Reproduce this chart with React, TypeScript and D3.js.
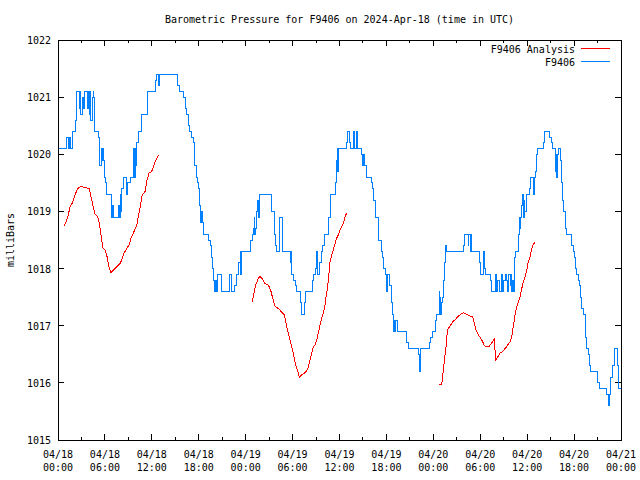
import React from "react";
import * as d3 from "d3";

const title = "Barometric Pressure for F9406 on 2024-Apr-18 (time in UTC)";
const yLabel = "milliBars";
const yTicks = [1015, 1016, 1017, 1018, 1019, 1020, 1021, 1022];
const xTickHours = [0, 6, 12, 18, 24, 30, 36, 42, 48, 54, 60, 66, 72];
const xTickDates = ["04/18", "04/18", "04/18", "04/18", "04/19", "04/19", "04/19", "04/19", "04/20", "04/20", "04/20", "04/20", "04/21"];
const xTickTimes = ["00:00", "06:00", "12:00", "18:00", "00:00", "06:00", "12:00", "18:00", "00:00", "06:00", "12:00", "18:00", "00:00"];
const seriesNames = ["F9406 Analysis", "F9406"];

// Observed pressure (hours since 04/18 00:00 UTC, mbar)
const obsHours = [
  0.00, 1.11, 1.28, 1.41, 1.62, 1.83, 2.26, 2.39, 2.69, 2.81, 2.94, 3.07, 3.16, 3.24, 3.45, 3.75, 3.88, 4.00, 4.09, 4.22,
  4.39, 4.51, 4.60, 4.73, 5.15, 5.28, 5.37, 5.50, 5.59, 5.67, 5.79, 5.92, 6.10, 6.23, 6.87, 7.00, 7.07, 7.71, 7.84, 7.97,
  8.10, 8.18, 8.44, 8.79, 8.95, 9.21, 9.63, 9.72, 9.85, 9.94, 10.01, 10.27, 10.70, 11.47, 12.49, 12.66, 12.79, 12.92, 15.26, 15.60,
  16.11, 16.28, 16.46, 16.66, 16.75, 16.88, 17.10, 17.30, 17.43, 17.52, 17.74, 17.87, 17.94, 18.07, 18.25, 18.33, 18.42, 18.58, 19.22, 19.44,
  19.57, 19.78, 19.86, 19.99, 20.12, 20.21, 20.42, 20.85, 21.87, 22.21, 22.51, 22.85, 23.02, 23.31, 23.40, 23.53, 24.64, 24.81, 24.98, 25.10,
  25.19, 25.28, 25.41, 25.54, 25.62, 25.71, 25.83, 27.33, 27.66, 27.75, 27.84, 27.97, 28.30, 28.39, 28.69, 29.67, 29.76, 29.89, 30.09, 30.40,
  30.53, 30.95, 31.17, 31.50, 31.68, 32.57, 32.65, 32.87, 33.00, 33.16, 33.42, 33.72, 33.85, 34.02, 34.57, 34.79, 35.46, 35.59, 35.72, 35.77,
  35.85, 36.92, 37.00, 37.25, 37.43, 37.77, 37.85, 37.98, 38.20, 38.33, 38.84, 38.92, 39.01, 39.10, 39.17, 39.26, 39.48, 40.03, 40.25, 40.32,
  40.54, 40.63, 40.96, 41.05, 41.31, 41.47, 41.69, 41.82, 41.95, 41.99, 42.08, 42.11, 42.37, 42.59, 42.75, 42.88, 42.97, 43.10, 43.19, 43.44,
  44.59, 44.80, 46.08, 46.17, 46.30, 46.38, 47.57, 47.70, 47.92, 48.30, 48.43, 48.73, 48.85, 48.98, 49.07, 49.15, 49.24, 49.28, 49.40, 49.58,
  49.71, 51.83, 51.96, 52.47, 52.56, 52.69, 52.78, 52.91, 53.88, 54.06, 54.39, 54.52, 54.61, 55.25, 55.47, 55.89, 56.10, 56.23, 56.40, 56.74,
  56.87, 56.95, 57.17, 57.38, 57.51, 57.59, 57.81, 57.93, 58.02, 58.15, 58.23, 58.32, 58.45, 58.87, 58.96, 59.08, 59.17, 59.30, 59.43, 59.51,
  59.64, 59.72, 59.94, 60.27, 60.45, 60.79, 60.91, 61.09, 61.22, 61.30, 62.07, 62.28, 62.92, 63.14, 63.27, 63.56, 63.69, 63.78, 63.91, 63.98,
  64.29, 64.42, 64.55, 64.71, 64.84, 64.93, 65.06, 65.61, 65.70, 65.90, 66.03, 66.21, 66.34, 66.54, 66.67, 66.76, 66.98, 67.18, 67.40, 67.49,
  67.61, 67.82, 67.95, 68.08, 69.02, 69.23, 70.17, 70.34, 70.47, 70.60, 70.72, 70.85, 71.14, 71.23, 71.58, 71.66, 72.00,
];
const obsValues = [
  1020.1, 1020.3, 1020.1, 1020.3, 1020.1, 1020.4, 1020.6, 1021.1, 1020.8, 1021.1, 1020.7, 1020.9, 1021.0, 1020.8, 1021.1, 1020.8, 1021.1, 1020.7, 1021.1, 1020.6,
  1021.0, 1021.1, 1021.0, 1020.4, 1020.3, 1020.1, 1019.8, 1020.1, 1019.9, 1020.1, 1019.9, 1019.6, 1019.5, 1019.3, 1018.9, 1019.1, 1018.9, 1019.1, 1018.9, 1019.3,
  1019.0, 1019.4, 1019.6, 1019.3, 1019.5, 1019.6, 1020.1, 1019.6, 1020.1, 1019.8, 1020.2, 1020.4, 1020.7, 1021.1, 1021.3, 1021.4, 1021.2, 1021.4, 1021.2, 1021.1,
  1021.0, 1020.8, 1020.7, 1020.6, 1020.5, 1020.4, 1020.3, 1020.2, 1020.0, 1019.8, 1019.6, 1019.5, 1019.4, 1019.1, 1018.8, 1019.0, 1018.8, 1018.6, 1018.5, 1018.4,
  1018.2, 1018.0, 1017.8, 1017.6, 1017.8, 1017.6, 1017.9, 1017.6, 1017.9, 1017.6, 1017.7, 1017.9, 1018.1, 1018.3, 1017.9, 1018.3, 1018.5, 1018.6, 1018.7, 1018.9,
  1018.6, 1018.7, 1019.0, 1019.2, 1018.9, 1019.2, 1019.3, 1019.0, 1018.9, 1018.6, 1018.4, 1018.3, 1018.7, 1018.9, 1018.3, 1018.1, 1018.3, 1017.9, 1017.8, 1017.7,
  1017.6, 1017.4, 1017.2, 1017.4, 1017.6, 1017.8, 1017.9, 1018.0, 1018.3, 1017.9, 1018.1, 1018.3, 1018.4, 1018.6, 1018.9, 1019.3, 1019.5, 1019.9, 1020.1, 1019.7,
  1020.1, 1020.2, 1020.4, 1020.2, 1020.1, 1020.2, 1020.4, 1020.1, 1020.4, 1020.1, 1020.0, 1019.8, 1020.0, 1019.8, 1020.0, 1019.8, 1019.6, 1019.5, 1019.4, 1019.2,
  1019.0, 1018.9, 1018.7, 1018.5, 1018.3, 1018.2, 1018.0, 1017.9, 1017.8, 1017.6, 1017.8, 1017.9, 1017.7, 1017.4, 1017.2, 1016.9, 1017.1, 1016.9, 1017.1, 1016.9,
  1016.7, 1016.6, 1016.5, 1016.2, 1016.5, 1016.6, 1016.7, 1016.8, 1016.9, 1017.1, 1017.2, 1017.6, 1017.5, 1017.2, 1017.4, 1017.5, 1017.7, 1017.8, 1018.1, 1018.4,
  1018.3, 1018.4, 1018.6, 1018.4, 1018.6, 1018.3, 1018.6, 1018.3, 1018.1, 1017.9, 1018.3, 1018.0, 1017.9, 1017.8, 1017.6, 1017.9, 1017.6, 1017.8, 1017.6, 1017.9,
  1017.6, 1017.8, 1017.9, 1017.8, 1017.6, 1017.9, 1017.7, 1017.9, 1017.6, 1017.8, 1017.6, 1018.2, 1018.3, 1018.6, 1018.9, 1018.7, 1018.9, 1019.1, 1019.3, 1018.9,
  1019.2, 1019.0, 1019.3, 1019.4, 1019.6, 1019.3, 1019.6, 1019.7, 1020.0, 1020.1, 1020.2, 1020.4, 1020.3, 1020.2, 1020.1, 1019.7, 1020.0, 1019.6, 1020.0, 1020.1,
  1019.9, 1019.5, 1019.2, 1019.0, 1018.8, 1018.7, 1018.6, 1018.5, 1018.4, 1018.3, 1018.2, 1018.0, 1017.9, 1017.8, 1017.7, 1017.5, 1017.3, 1017.2, 1017.1, 1016.8,
  1016.6, 1016.5, 1016.3, 1016.2, 1016.0, 1015.9, 1015.8, 1015.6, 1015.8, 1016.0, 1016.1, 1016.3, 1016.5, 1016.6, 1016.3, 1015.9, 1015.9,
];

// Analysis runs (hours, mbar)
const analysis1Hours = [0.81, 1.02, 1.32, 1.53, 1.83, 2.17, 2.52, 2.90, 3.45, 4.00, 4.22, 4.51, 4.73, 5.08, 5.28, 5.50, 5.72, 6.01, 6.23, 6.43, 6.56, 6.78, 7.07, 7.51, 7.93, 8.15, 8.44, 8.79, 9.08, 9.34, 9.63, 10.07, 10.27, 10.49, 10.78, 11.13, 11.34, 11.64, 11.98, 12.19, 12.41, 12.62, 12.92];
const analysis1Values = [1018.74, 1018.82, 1018.94, 1019.08, 1019.15, 1019.29, 1019.40, 1019.44, 1019.42, 1019.40, 1019.26, 1019.08, 1018.95, 1018.91, 1018.79, 1018.59, 1018.37, 1018.32, 1018.24, 1018.09, 1018.00, 1017.93, 1017.97, 1018.03, 1018.09, 1018.15, 1018.27, 1018.35, 1018.41, 1018.53, 1018.62, 1018.76, 1018.91, 1019.06, 1019.29, 1019.35, 1019.52, 1019.67, 1019.70, 1019.78, 1019.87, 1019.93, 1019.99];
const analysis2Hours = [24.85, 24.98, 25.28, 25.62, 25.83, 26.18, 26.47, 26.90, 27.20, 27.46, 27.75, 28.18, 28.39, 28.74, 28.94, 29.16, 29.45, 29.67, 29.89, 30.10, 30.31, 30.53, 30.73, 30.86, 31.17, 31.59, 31.81, 32.01, 32.23, 32.45, 32.65, 32.87, 33.09, 33.29, 33.51, 33.73, 33.93, 34.15, 34.28, 34.44, 34.57, 34.70, 34.79, 35.00, 35.21, 35.43, 35.64, 35.85, 36.07, 36.28, 36.49, 36.71, 36.92];
const analysis2Values = [1017.42, 1017.51, 1017.71, 1017.83, 1017.86, 1017.81, 1017.74, 1017.71, 1017.62, 1017.48, 1017.34, 1017.30, 1017.27, 1017.22, 1017.19, 1017.04, 1016.87, 1016.75, 1016.63, 1016.52, 1016.37, 1016.25, 1016.17, 1016.10, 1016.14, 1016.18, 1016.21, 1016.28, 1016.40, 1016.52, 1016.63, 1016.66, 1016.75, 1016.87, 1017.01, 1017.13, 1017.22, 1017.36, 1017.51, 1017.63, 1017.80, 1017.97, 1018.12, 1018.24, 1018.33, 1018.44, 1018.53, 1018.59, 1018.67, 1018.73, 1018.79, 1018.91, 1018.97];
const analysis3Hours = [48.77, 49.07, 49.15, 49.28, 49.41, 49.58, 49.71, 49.79, 50.01, 50.22, 50.48, 50.77, 51.07, 51.41, 51.84, 52.27, 52.69, 53.04, 53.24, 53.46, 53.75, 54.06, 54.31, 54.52, 54.83, 55.16, 55.47, 55.80, 55.89, 55.98, 56.31, 56.53, 56.75, 57.04, 57.30, 57.59, 57.81, 58.03, 58.15, 58.32, 58.49, 58.67, 58.87, 59.09, 59.31, 59.51, 59.73, 59.94, 60.15, 60.37, 60.58, 60.79, 61.01];
const analysis3Values = [1015.97, 1015.97, 1016.06, 1016.22, 1016.40, 1016.58, 1016.75, 1016.92, 1016.97, 1017.01, 1017.07, 1017.10, 1017.15, 1017.19, 1017.23, 1017.20, 1017.17, 1017.15, 1017.04, 1016.92, 1016.84, 1016.78, 1016.72, 1016.65, 1016.63, 1016.64, 1016.70, 1016.77, 1016.58, 1016.40, 1016.47, 1016.52, 1016.54, 1016.58, 1016.62, 1016.68, 1016.72, 1016.81, 1016.92, 1017.07, 1017.22, 1017.33, 1017.42, 1017.51, 1017.65, 1017.77, 1017.86, 1017.97, 1018.12, 1018.21, 1018.35, 1018.43, 1018.46];

const W = 640;
const H = 480;
const M = { left: 58, right: 621, top: 40, bottom: 440 };
const FONT = "'DejaVu Sans Mono', monospace";
const RED = "#ff0000";
const BLUE = "#0080ff";

export default function App() {
  const x = d3.scaleLinear().domain([0, 72]).range([M.left, M.right]);
  const y = d3.scaleLinear().domain([1015, 1022]).range([M.bottom, M.top]);

  const zip = (hs: number[], vs: number[]) => hs.map((h, i) => [h, vs[i]] as [number, number]);
  const lineLin = d3.line<[number, number]>().x((d) => x(d[0])).y((d) => y(d[1]));
  const lineStep = d3
    .line<[number, number]>()
    .x((d) => x(d[0]))
    .y((d) => y(d[1]))
    .curve(d3.curveStepAfter);

  const analysisSegs = [
    zip(analysis1Hours, analysis1Values),
    zip(analysis2Hours, analysis2Values),
    zip(analysis3Hours, analysis3Values),
  ];
  const obs = zip(obsHours, obsValues);

  const minorHours = d3.range(0, 73, 3);

  return (
    <svg
      width={W}
      height={H}
      style={{ position: "fixed", left: 0, top: 0, background: "#fff" }}
      fontFamily={FONT}
      fontSize={10}
    >
      <rect x={0} y={0} width={W} height={H} fill="#fff" />
      <text x={(M.left + M.right) / 2} y={23} textAnchor="middle" fill="#000">
        {title}
      </text>
      <text
        transform={`translate(14,${(M.top + M.bottom) / 2}) rotate(-90)`}
        textAnchor="middle"
        fill="#000"
      >
        {yLabel}
      </text>

      {/* ticks */}
      <g stroke="#000" strokeWidth={1} shapeRendering="crispEdges">
        {yTicks.map((t) => (
          <g key={"yt" + t}>
            <line x1={M.left} x2={M.left + 6} y1={y(t)} y2={y(t)} />
            <line x1={M.right} x2={M.right - 6} y1={y(t)} y2={y(t)} />
          </g>
        ))}
        {minorHours.map((h) => {
          const len = h % 6 === 0 ? 6 : 3;
          return (
            <g key={"xt" + h}>
              <line x1={x(h)} x2={x(h)} y1={M.bottom} y2={M.bottom - len} />
              <line x1={x(h)} x2={x(h)} y1={M.top} y2={M.top + len} />
            </g>
          );
        })}
      </g>

      {yTicks.map((t) => (
        <text key={"yl" + t} x={M.left - 7} y={y(t) + 4} textAnchor="end" fill="#000">
          {t}
        </text>
      ))}
      {xTickHours.map((h, i) => (
        <g key={"xl" + h}>
          <text x={x(h)} y={458} textAnchor="middle" fill="#000">
            {xTickDates[i]}
          </text>
          <text x={x(h)} y={471} textAnchor="middle" fill="#000">
            {xTickTimes[i]}
          </text>
        </g>
      ))}

      {/* series */}
      <g fill="none" strokeWidth={1} shapeRendering="crispEdges">
        {analysisSegs.map((seg, i) => (
          <path key={"a" + i} d={lineLin(seg) || ""} stroke={RED} />
        ))}
        <path d={lineStep(obs) || ""} stroke={BLUE} />
      </g>

      {/* legend */}
      <text x={575} y={53} textAnchor="end" fill="#000">
        {seriesNames[0]}
      </text>
      <line x1={581} x2={610} y1={48.5} y2={48.5} stroke={RED} shapeRendering="crispEdges" />
      <text x={575} y={66} textAnchor="end" fill="#000">
        {seriesNames[1]}
      </text>
      <line x1={581} x2={610} y1={61.5} y2={61.5} stroke={BLUE} shapeRendering="crispEdges" />

      <rect
        x={M.left}
        y={M.top}
        width={M.right - M.left}
        height={M.bottom - M.top}
        fill="none"
        stroke="#000"
        shapeRendering="crispEdges"
      />
    </svg>
  );
}
